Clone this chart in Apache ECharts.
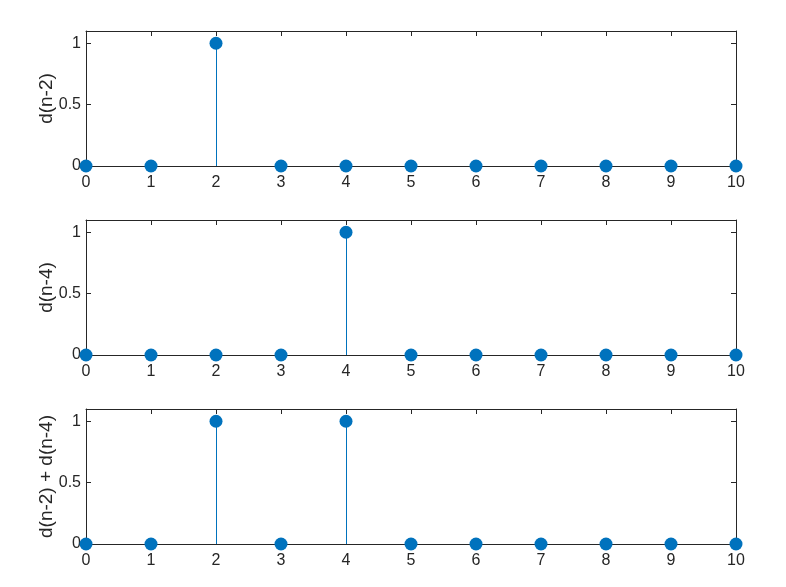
<!DOCTYPE html>
<html>
<head>
<meta charset="utf-8">
<script src="https://cdn.jsdelivr.net/npm/echarts@6/dist/echarts.min.js"></script>
<style>
html,body{margin:0;padding:0;background:#fff;}
#chart{width:786px;height:587px;}
</style>
</head>
<body>
<div id="chart"></div>
<script>
var n = [0, 1, 2, 3, 4, 5, 6, 7, 8, 9, 10];
var dn2 = [0, 0, 1, 0, 0, 0, 0, 0, 0, 0, 0];
var dn4 = [0, 0, 0, 0, 1, 0, 0, 0, 0, 0, 0];
var dsum = [0, 0, 1, 0, 1, 0, 0, 0, 0, 0, 0];
var yLabels = ['d(n-2)', 'd(n-4)', 'd(n-2) + d(n-4)'];
var panels = [dn2, dn4, dsum];

var AX = '#262626';
var BLUE = '#0072BD';
var FONT = 'Liberation Sans, Arial, sans-serif';
var tops = [31, 220, 409];

function stemRender(params, api) {
  var x = api.value(0), y = api.value(1);
  var top = api.coord([x, y]);
  var base = api.coord([x, 0]);
  var px = Math.round(top[0]);
  return {
    type: 'rect',
    shape: {x: px, y: Math.min(top[1], base[1]), width: 1, height: Math.abs(base[1] - top[1])},
    style: {fill: BLUE}
  };
}

var grids = [], xAxes = [], yAxes = [], series = [];
panels.forEach(function (vals, i) {
  grids.push({left: 86, right: 50, top: tops[i], height: 135, containLabel: false});
  var pts = n.map(function (x, k) { return [x, vals[k]]; });
  xAxes.push({
    type: 'value', gridIndex: i, min: 0, max: 10, interval: 1, position: 'bottom',
    axisLine: {onZero: false, lineStyle: {color: AX, width: 1}},
    axisTick: {inside: true, length: 5, lineStyle: {color: AX}},
    axisLabel: {color: AX, fontSize: 16, fontFamily: FONT, margin: 9},
    splitLine: {show: false}
  });
  xAxes.push({
    type: 'value', gridIndex: i, min: 0, max: 10, interval: 1, position: 'top',
    axisLine: {onZero: false, lineStyle: {color: AX, width: 1}},
    axisTick: {inside: true, length: 5, lineStyle: {color: AX}},
    axisLabel: {show: false}, splitLine: {show: false}
  });
  yAxes.push({
    type: 'value', gridIndex: i, min: 0, max: 1.1, interval: 0.5, position: 'left',
    name: yLabels[i], nameLocation: 'middle', nameGap: 30, nameRotate: 90,
    nameMoveOverlap: false,
    nameTextStyle: {color: AX, fontSize: 19, fontFamily: FONT},
    axisLine: {onZero: false, lineStyle: {color: AX, width: 1}},
    axisTick: {inside: true, length: 5, lineStyle: {color: AX}},
    axisLabel: {color: AX, fontSize: 16, fontFamily: FONT, margin: 5, showMaxLabel: false},
    splitLine: {show: false}
  });
  yAxes.push({
    type: 'value', gridIndex: i, min: 0, max: 1.1, interval: 0.5, position: 'right',
    axisLine: {onZero: false, lineStyle: {color: AX, width: 1}},
    axisTick: {inside: true, length: 5, lineStyle: {color: AX}},
    axisLabel: {show: false}, splitLine: {show: false}
  });
  series.push({
    type: 'custom', xAxisIndex: 2 * i, yAxisIndex: 2 * i, data: pts,
    renderItem: stemRender, silent: true, z: 2, clip: false
  });
  series.push({
    type: 'scatter', xAxisIndex: 2 * i, yAxisIndex: 2 * i, data: pts,
    symbol: 'circle', symbolSize: 13, clip: false,
    itemStyle: {color: BLUE, opacity: 1}, silent: true, z: 5
  });
});

var chart = echarts.init(document.getElementById('chart'), null, {renderer: 'canvas'});
chart.setOption({
  animation: false,
  backgroundColor: '#ffffff',
  grid: grids,
  xAxis: xAxes,
  yAxis: yAxes,
  series: series
});
</script>
</body>
</html>
